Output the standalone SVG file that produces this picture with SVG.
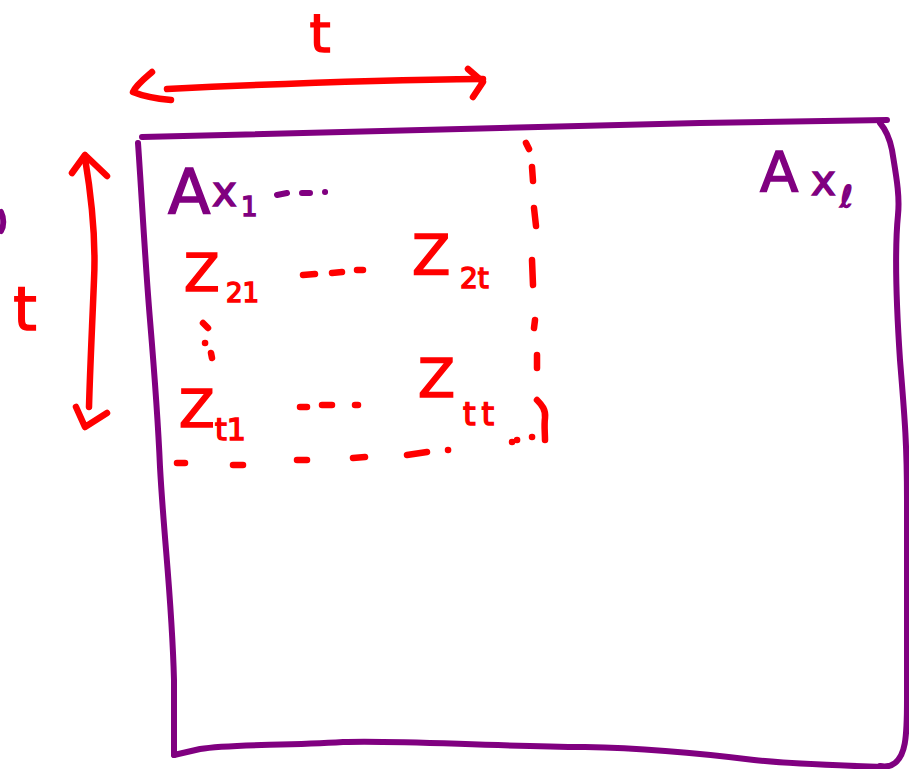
<svg xmlns="http://www.w3.org/2000/svg" width="909" height="769" viewBox="0 0 909 769">
<style>
.p{fill:none;stroke:#800080;stroke-width:6;stroke-linecap:round;stroke-linejoin:round}
.r{fill:none;stroke:#ff0000;stroke-width:6.5;stroke-linecap:round;stroke-linejoin:round}
.rt{fill:#ff0000;stroke:#ff0000;stroke-width:1.5;font-family:"DejaVu Sans",sans-serif}
.pt{fill:#800080;stroke:#800080;stroke-width:1.5;font-family:"DejaVu Sans",sans-serif}
</style>
<rect width="909" height="769" fill="#ffffff"/>
<g id="matrix-box">
<path class="p" d="M142,137 C300,132 500,127 700,123 L887,120"/>
<path class="p" d="M880,123 C886,130 890,140 892,150 C896,175 900,195 898,215 C895,245 896,300 900,360 C904,410 907,440 907,500 L907,700 C907,740 905,755 895,763 C890,767 885,767 880,766"/>
<path class="p" d="M884,767 C820,765 780,763 754,760 C690,752 640,748 585,747 C480,746 400,740 343,742 C280,746 230,744 200,749 L174,755"/>
<path class="p" d="M138,143 C142,200 145,260 150,320 C155,380 158,420 160,467 C164,540 172,600 174,680 L174,755"/>
<path class="p" d="M1,212 C4,218 4,226 1,231"/>
</g>
<g id="connectors">
<g id="arrow-horizontal">
<path class="r" d="M167,89 C270,84 380,80 483,79"/>
<path class="r" d="M152,72 C145,78 136,85 133,92 C145,97 160,99 171,100"/>
<path class="r" d="M468,69 L483,82 L473,97"/>
</g>
<g id="arrow-vertical">
<path class="r" d="M85,158 C92,200 96,240 94,280 C92,330 90,370 89,407"/>
<path class="r" d="M72,173 L85,155 L107,176"/>
<path class="r" d="M76,407 L85,427 L107,413"/>
</g>
<g id="dashed-block">
<path class="r" d="M526,143 L529,149"/>
<path class="r" d="M532,167 L533,181"/>
<path class="r" d="M534,208 L536,226"/>
<path class="r" d="M532,260 L533,285"/>
<path class="r" d="M535,320 L534,328"/>
<path class="r" d="M537,355 L537,368"/>
<path class="r" d="M537,400 C542,405 546,410 545,418 C544,425 545,433 545,440"/>
<path class="r" d="M512,442 l0.1,0 M517,440 l0.1,0 M532,437 l0.1,0"/>
<path class="r" d="M177,463 L185,463"/>
<path class="r" d="M233,465 L243,465"/>
<path class="r" d="M297,460 L307,460"/>
<path class="r" d="M353,458 L365,457"/>
<path class="r" d="M407,455 L427,452"/>
<path class="r" d="M448,450 l0.1,0"/>
</g>
</g>
<g id="label-t-top"><text class="rt" x="320" y="52" font-size="54" text-anchor="middle">t</text></g>
<g id="label-t-left"><text class="rt" x="25" y="330" font-size="60" text-anchor="middle">t</text></g>
<g id="label-Ax1">
<text class="pt"><tspan x="168" y="214" font-size="62">A</tspan><tspan x="212" y="206" font-size="42">x</tspan><tspan x="241" y="216" font-size="26">1</tspan></text>
<path class="p" d="M277,195 L287,193 M302,193 L310,193 M325,192 l0.1,0"/>
</g>
<g id="label-Axl">
<text class="pt"><tspan x="760" y="191" font-size="56">A</tspan><tspan x="811" y="195" font-size="42">x</tspan><tspan x="840" y="207" font-size="30">ℓ</tspan></text>
</g>
<g id="label-Z21">
<text class="rt"><tspan x="184" y="291" font-size="52">Z</tspan><tspan x="226" y="302" font-size="26">21</tspan></text>
</g>
<g id="label-Z2t">
<text class="rt"><tspan x="412" y="274" font-size="56">Z</tspan><tspan x="460" y="288" font-size="28">2t</tspan></text>
</g>
<g id="label-Zt1">
<text class="rt"><tspan x="179" y="427" font-size="52">Z</tspan><tspan x="215" y="440" font-size="30">t1</tspan></text>
</g>
<g id="label-Ztt">
<text class="rt"><tspan x="418" y="397" font-size="54">Z</tspan><tspan x="463" y="425" font-size="32" letter-spacing="6">tt</tspan></text>
</g>
<g id="ellipses">
<path class="r" d="M303,275 L315,274 M332,273 L342,272 M357,270 L363,270"/>
<path class="r" d="M300,407 L307,407 M322,405 L332,405 M355,405 L358,405"/>
<path class="r" d="M203,323 L208,328 M205,343 l0.1,0 M211,353 L212,358"/>
</g>
</svg>
